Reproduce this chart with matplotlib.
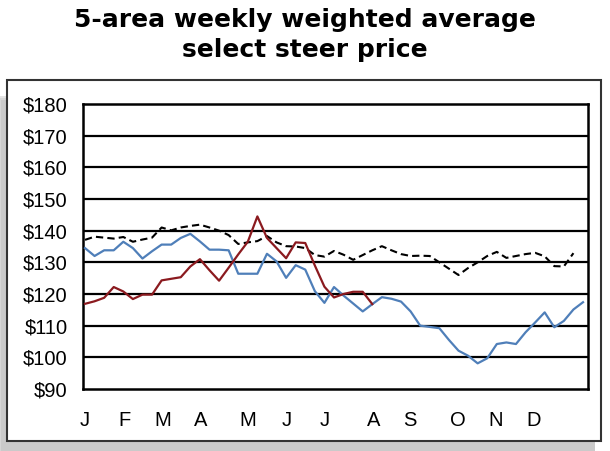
import matplotlib
matplotlib.use("Agg")
import matplotlib.pyplot as plt
from matplotlib.patches import Rectangle

# ---- data ----
title = "5-area weekly weighted average\nselect steer price"
month_labels = ["J", "F", "M", "A", "M", "J", "J", "A", "S", "O", "N", "D"]
month_pos = [1.0, 5.1, 9.1, 13.1, 18.0, 22.1, 26.0, 31.1, 34.9, 39.9, 43.9, 47.8]
y_ticks = [90, 100, 110, 120, 130, 140, 150, 160, 170, 180]
y_labels = ["$90", "$100", "$110", "$120", "$130", "$140", "$150", "$160", "$170", "$180"]

blue_vals = [134.5, 132.0, 133.8, 133.8, 136.5, 134.5, 131.2, 133.5, 135.6, 135.6,
             137.7, 139.0, 136.6, 134.0, 134.0, 133.8, 126.4, 126.4, 126.4, 132.7,
             130.3, 125.1, 129.1, 127.7, 120.9, 117.2, 122.2, 119.5, 117.0, 114.5,
             116.8, 119.0, 118.5, 117.6, 114.5, 110.0, 109.6, 109.2, 105.5, 102.1,
             100.5, 98.1, 99.7, 104.2, 104.7, 104.2, 107.9, 111.0, 114.2, 109.5,
             111.5, 115.1, 117.4]
red_vals = [116.9, 117.7, 118.8, 122.2, 120.8, 118.4, 119.8, 119.8, 124.3, 124.8,
            125.3, 128.7, 131.0, 127.5, 124.2, 128.3, 132.5, 136.5, 144.5, 137.7,
            134.5, 131.3, 136.3, 136.1, 129.0, 122.3, 118.9, 120.0, 120.7, 120.7,
            116.8]
avg_vals = [137.1, 138.1, 137.8, 137.5, 138.0, 136.5, 137.2, 137.8, 141.0, 140.1,
            141.0, 141.5, 141.9, 141.0, 140.0, 138.6, 135.8, 136.3, 136.7, 138.3,
            136.3, 135.1, 135.0, 134.5, 132.3, 131.8, 133.6, 132.4, 130.8, 132.3,
            133.8, 135.1, 133.8, 132.6, 132.0, 132.1, 132.0, 130.0, 128.0, 126.0,
            128.2, 130.0, 132.0, 133.3, 131.4, 132.0, 132.6, 133.0, 131.9, 128.8,
            128.7, 132.9]

weeks_blue = list(range(1, len(blue_vals) + 1))
weeks_red = list(range(1, len(red_vals) + 1))
weeks_avg = list(range(1, len(avg_vals) + 1))

W, H = 610, 451
fig = plt.figure(figsize=(W / 100, H / 100), dpi=100)
fig.patch.set_facecolor("white")

# soft shadow + frame
for i, c in enumerate(["#e4e4e4", "#d6d6d6", "#cacaca"]):
    off = 2 * (2 - i)
    sh = Rectangle(((1 - off) / W, (0 + off * 0) / H), (594 + off) / W, (361 - 10 + off) / H,
                   transform=fig.transFigure, facecolor=c, edgecolor="none", zorder=0)
    fig.patches.append(sh)
frame = Rectangle((7 / W, 1 - 441 / H), 594 / W, 361 / H, transform=fig.transFigure,
                  facecolor="white", edgecolor="#333333", linewidth=1.5, zorder=1)
fig.patches.append(frame)

fig.text(0.5, 1 - 35 / H, title, ha="center", va="center", fontsize=18,
         fontweight="heavy", family="DejaVu Sans", linespacing=1.3)

ax = fig.add_axes([83 / W, 1 - 389 / H, (588 - 83) / W, (389 - 104) / H], zorder=2)
ax.set_facecolor("white")
step = 9.58
ax.set_xlim(1 - 2 / step, 53 + 5 / step)
ax.set_ylim(90, 180)

for v in y_ticks[1:-1]:
    ax.axhline(v, color="black", linewidth=1.6, zorder=1)

ax.plot(weeks_avg, avg_vals, color="black", linewidth=1.5, linestyle=(0, (3.5, 2)), zorder=3)
ax.plot(weeks_blue, blue_vals, color="#4f7fb9", linewidth=1.6, zorder=4)
ax.plot(weeks_red, red_vals, color="#8b1a1f", linewidth=1.6, zorder=5)

for s in ax.spines.values():
    s.set_linewidth(1.8)
    s.set_color("black")

ax.set_yticks(y_ticks)
ax.set_yticklabels(y_labels)
ax.set_xticks(month_pos)
ax.set_xticklabels(month_labels)
ax.tick_params(axis="both", length=0, labelsize=14.5)
ax.tick_params(axis="y", pad=11)
ax.tick_params(axis="x", pad=16)
for lab in ax.get_xticklabels() + ax.get_yticklabels():
    lab.set_family("Liberation Sans")

fig.savefig("out.png", dpi=100)
